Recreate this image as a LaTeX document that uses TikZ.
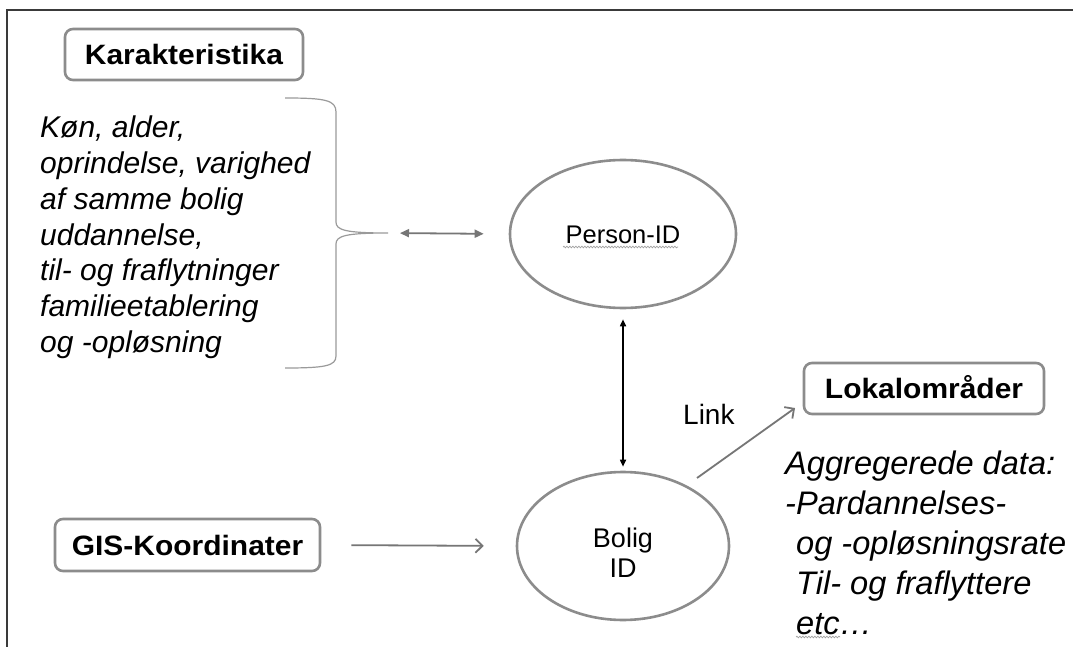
\documentclass[tikz,border=0pt]{standalone}
\usepackage{fontspec}
\setmainfont{Liberation Sans}
\newfontfamily\boxfont{Liberation Sans}[FakeStretch=1.07]
\usetikzlibrary{arrows.meta,shapes.geometric,decorations.pathmorphing}
\definecolor{bordergray}{HTML}{8C8C8C}
\definecolor{arrowgray}{HTML}{767676}
\definecolor{bracegray}{HTML}{9A9A9A}
\definecolor{framegray}{HTML}{3A3A3A}
\definecolor{wavegray}{HTML}{A0A0A0}
\begin{document}
\begin{tikzpicture}[x=1pt,y=-1pt,
  labelbox/.style={draw=bordergray, line width=2.6pt, rounded corners=8pt, inner sep=0pt,
    font=\boxfont\bfseries\fontsize{28}{34}\selectfont, text height=20pt, text depth=0pt},
  idellipse/.style={ellipse, draw=bordergray, line width=2.6pt, inner sep=0pt},
  grayarrow/.style={draw=arrowgray, line width=1.8pt, -{Straight Barb[length=7pt,width=14pt]}},
  dblgray/.style={draw=arrowgray, line width=1.8pt, {Triangle[length=9pt,width=8pt]}-{Triangle[length=9pt,width=8pt]}},
  dblblack/.style={draw=black, line width=1.6pt, {Triangle[length=7pt,width=6pt]}-{Triangle[length=7pt,width=6pt]}},
  wavy/.style={draw=wavegray, line width=0.7pt, decorate, decoration={snake, amplitude=0.8pt, segment length=3pt}},
  bodytext/.style={anchor=base west, inner sep=0pt}
]
\useasboundingbox (0,0) rectangle (1073,647);
\fill[white] (0,0) rectangle (1073,647);
% frame
\draw[framegray, line width=1.6pt] (7,647) -- (7,10) -- (1073,10);

% boxes
\node[labelbox, minimum width=238pt, minimum height=51pt] (karak) at (184,54.5) {Karakteristika};
\node[labelbox, minimum width=240pt, minimum height=51pt] (lokal) at (924,388.5) {Lokalområder};
\node[labelbox, minimum width=265pt, minimum height=52pt] (gis) at (187.5,545) {GIS-Koordinater};

% ellipses
\node[idellipse, minimum width=226pt, minimum height=148pt,
      font=\fontsize{25.5}{30}\selectfont, text height=18pt, text depth=0pt] (person) at (623,234) {Person-ID};
\node[idellipse, minimum width=212pt, minimum height=148pt, align=center,
      font=\fontsize{27}{30}\selectfont] (bolig) at (623,546) {\rule{0pt}{32pt}Bolig\\ID};

% texts
\node[bodytext, font=\itshape\fontsize{30}{35.7}\selectfont] (chartext) at (40,138)
  {\parbox[t]{300pt}{\raggedright Køn, alder,\\oprindelse, varighed\\af samme bolig\\uddannelse,\\til- og fraflytninger\\familieetablering\\og -opløsning}};
\node[bodytext, font=\itshape\fontsize{32.6}{40}\selectfont] (aggtext) at (785,474)
  {\parbox[t]{285pt}{\raggedright Aggregerede data:\\-Pardannelses-\\\hspace*{11pt}og -opløsningsrate\\\hspace*{11pt}Til- og fraflyttere\\\hspace*{11pt}etc…}};
\node[bodytext, font=\fontsize{28}{34}\selectfont] (linklabel) at (683,424) {Link};

% brace
\coordinate (bracetip) at (388,233);
\draw[bracegray, line width=1.2pt] (285,98) .. controls (325,98) and (336,100) .. (336,112)
  -- (336,222) .. controls (336,230) and (345,233) .. (bracetip)
  .. controls (345,233) and (336,236) .. (336,244)
  -- (336,356) .. controls (336,366) and (325,368) .. (285,368);

% connectors
\draw[dblgray, shorten <=12pt, shorten >=25pt] (bracetip) -- (person.west);
\draw[dblblack, shorten <=10pt, shorten >=4pt] (person.south) -- (bolig.north);
\draw[grayarrow, shorten <=30pt, shorten >=32pt] (gis.east) -- (bolig.west);
\coordinate (linkA) at (697,478);
\coordinate (linkB) at (795,408);
\draw[grayarrow] (linkA) -- (linkB);

% spell-check underlines
\draw[wavy] (563,247) -- (678,247);
\draw[wavy] (796,637) -- (840,637);
\end{tikzpicture}
\end{document}
